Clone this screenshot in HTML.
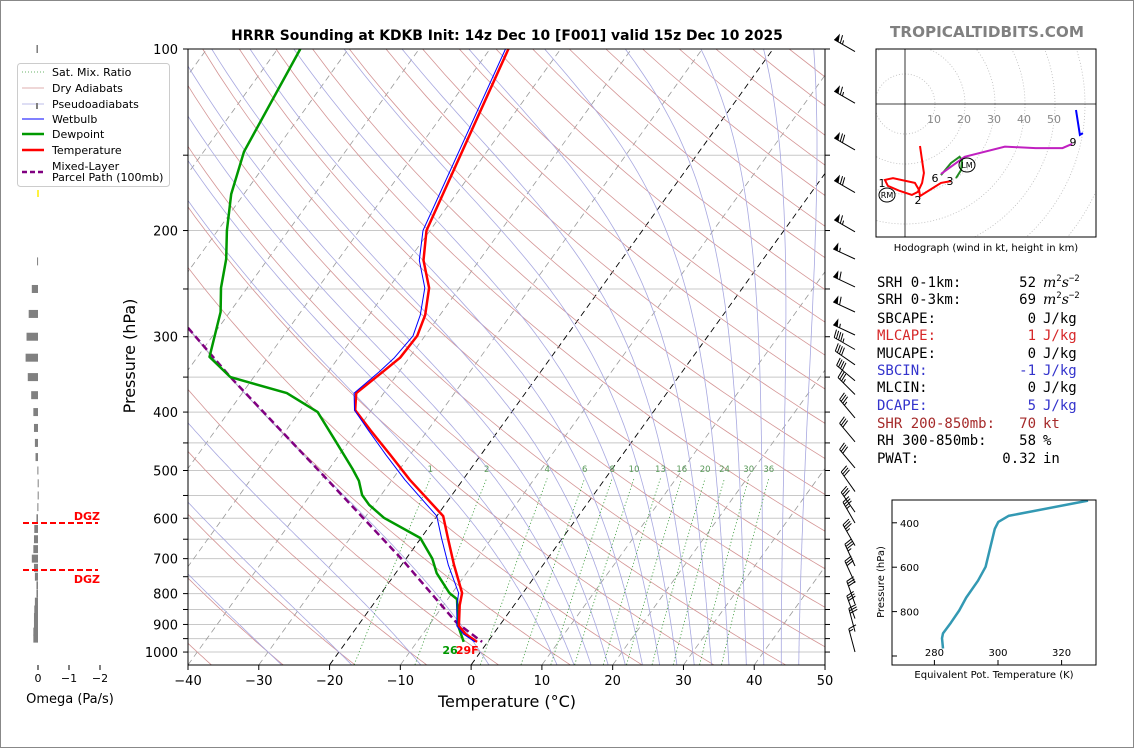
<!DOCTYPE html>
<html><head><meta charset="utf-8">
<style>
html,body{margin:0;padding:0;background:#fff;}
svg{display:block;font-family:"DejaVu Sans","Liberation Sans",sans-serif;}
</style></head>
<body>
<svg id="fig" width="1134" height="748" viewBox="0 0 1134 748" xmlns="http://www.w3.org/2000/svg">
<rect x="0.5" y="0.5" width="1133" height="747" fill="#fff" stroke="#888"/>
<defs>
<clipPath id="mainclip"><rect x="188" y="49" width="637" height="616"/></clipPath>
<clipPath id="hodoclip"><rect x="876" y="49" width="220" height="188"/></clipPath>
<clipPath id="thclip"><rect x="892" y="500" width="204" height="165"/></clipPath>
</defs>
<text x="507" y="40" text-anchor="middle" font-size="13.9" font-weight="bold">HRRR Sounding at KDKB Init: 14z Dec 10 [F001] valid 15z Dec 10 2025</text>
<text x="987" y="37" text-anchor="middle" font-size="15.2" font-weight="bold" fill="#808080">TROPICALTIDBITS.COM</text>
<g id="bg" clip-path="url(#mainclip)"></g>
<g id="prof" clip-path="url(#mainclip)"></g>
<g id="axes"></g>
<g id="barbs"></g>
<g id="omega"></g>
<g id="legend"></g>
<g id="hodo"></g>
<g id="stats"></g>
<g id="theta"></g>
</svg>
<script>
// ---------- data ----------
const tempP = [100,200,224,249,276,299,325,343,372,397,428,471,518,595,647,717,798,836,905,934,962];
const tempT = [-57.4,-50.5,-47.9,-44.3,-42.1,-41.1,-41.3,-42.3,-43.9,-42.3,-38.2,-32.8,-27.5,-19.1,-16.2,-12.6,-8.6,-7.7,-5.7,-3.9,-1.5];
const wbT = [-57.8,-51.0,-48.5,-44.9,-42.8,-41.7,-42.1,-42.8,-44.2,-42.4,-38.5,-33.4,-28.2,-20.0,-17.1,-13.4,-9.1,-8.1,-6.0,-4.2,-1.8];
const dewP = [100,148,174,200,223,249,273,324,350,372,400,448,497,520,549,570,599,647,700,740,798,817,905,962];
const dewT = [-86.8,-84.3,-81.8,-78.7,-75.9,-73.7,-71.3,-68.3,-63.3,-53.7,-47.4,-41.8,-36.7,-34.6,-32.7,-30.7,-27.3,-20.1,-16.3,-14.2,-10.4,-8.7,-5.8,-3.4];
const parcelP = [290,350,501,705,892,962];
const parcelT = [-74.3,-63.3,-41.2,-20.25,-6.5,-0.8];
const mixRatios = [1,2,4,6,8,10,13,16,20,24,30,36];
const xTicks = [-40,-30,-20,-10,0,10,20,30,40,50];
const pLabels = [100,200,300,400,500,600,700,800,900,1000];
const pGrid = [100,150,200,250,300,350,400,450,500,550,600,650,700,750,800,850,900,950,1000];
const barbP = [101,123,147,173,201,223,248,273,298,315,334,355,374,409,448,495,542,586,611,666,720,768,832,880,925,1000];
const barbSpd = [65,65,70,70,65,55,60,60,55,45,40,40,35,35,30,30,30,30,35,35,35,30,30,30,30,15];
const barbDir = [300,300,300,300,300,295,295,295,295,300,305,310,315,320,320,320,325,325,330,330,335,335,340,340,345,345];
const omegaP = [100,225,250,275,300,325,350,375,400,425,450,475,500,525,550,575,600,625,650,675,700,725,750,775,800,825,850,875,900,925,950];
const omegaV = [0.05,0.03,0.2,0.3,0.37,0.4,0.33,0.22,0.15,0.13,0.1,0.08,0.02,0.01,0.01,0.02,0.05,0.12,0.13,0.15,0.2,0.13,0.1,0.05,0.05,0.1,0.12,0.13,0.13,0.15,0.15];
const hodoRed = [[5,14],[6.3,23],[5.7,26.3],[4.3,29.3],[2.3,30.3],[-1.7,29],[-5.7,27.3],[-6.7,25.3],[-4,24.7],[3.3,26.3],[4.7,28.7],[5,30.7],[9.3,28],[12,26.3],[15.3,25.7]];
const hodoGreen = [[12,23.7],[15.3,19.7],[18.2,17.6],[19,18.7],[18.7,22],[17,24.7]];
const hodoMag = [[12,23.3],[19.9,17.6],[33.3,14.2],[43.5,14.7],[52.5,14.7],[55.7,13.3]];
const hodoBlue = [[57,2],[58.3,10.3],[59.3,9.7]];
const thetaE = [328.3,303.3,300.1,299,296.1,293.7,290,287.8,285.2,282.7,282.4,282.7];
const thetaP = [300,369,396,427,598,661,737,795,850,898,920,966];
const statLabels = ["SRH 0-1km:","SRH 0-3km:","SBCAPE:","MLCAPE:","MUCAPE:","SBCIN:","MLCIN:","DCAPE:","SHR 200-850mb:","RH 300-850mb:","PWAT:"];
const statValues = ["52","69","0","1","0","-1","0","5","70","58","0.32"];
const statUnits = ["m2s-2","m2s-2","J/kg","J/kg","J/kg","J/kg","J/kg","J/kg","kt","%","in"];
const statColors = ["#000","#000","#000","#d62728","#000","#3333cc","#000","#3333cc","#a52a2a","#000","#000"];

// ---------- helpers ----------
const NS="http://www.w3.org/2000/svg";
function mk(parent,tag,attrs){const e=document.createElementNS(NS,tag);for(const k in attrs)e.setAttribute(k,attrs[k]);parent.appendChild(e);return e;}
const yP=p=>49+261.9*Math.log(p/100);
const xT=(T,p)=>188+(T+40)*7.078+0.72*(665-yP(p));
function pathFrom(pts){return pts.map((q,i)=>(i?'L':'M')+q[0].toFixed(1)+' '+q[1].toFixed(1)).join(' ');}
const bg=document.getElementById('bg'), prof=document.getElementById('prof'), axes=document.getElementById('axes');

pGrid.forEach(p=>{const l=mk(bg,'line',{x1:188,x2:825,y1:yP(p),y2:yP(p),stroke:'#c8c8c8','stroke-width':1});

});
for(let T=-120;T<=50;T+=10){const pts=[[xT(T,1050),yP(1050)],[xT(T,100),yP(100)]];
 const l=mk(bg,'path',{d:pathFrom(pts),stroke:(T===0||T===-20)?'#000':'#999','stroke-width':(T===0||T===-20)?0.9:0.8,'stroke-dasharray':'6,4',fill:'none'});
 
 }
for(let t0=-40;t0<=250;t0+=10){const th=t0+273.15;const pts=[];for(let p=1050;p>=100;p-=10){pts.push([xT(th*Math.pow(p/1000,0.2857)-273.15,p),yP(p)]);}
 const l=mk(bg,'path',{d:pathFrom(pts),stroke:'#d49595','stroke-width':0.8,fill:'none'});
 
 }
function es(Tc){return 6.112*Math.exp(17.67*Tc/(Tc+243.5));}
function dTdp(T,p){const Tc=T-273.15;const e=es(Tc);const rs=0.622*e/(p-e);return (287*T+2.501e6*rs)/(1005+2.501e6*2.501e6*rs*0.622/(287*T*T))/p;}
const moist0=[];for(let t=-30;t<=10;t+=10)moist0.push(t);for(let t=12.5;t<=45;t+=2.5)moist0.push(t);
moist0.forEach(t0=>{
 let pts=[];let T=t0+273.15;
 for(let p=1000;p>100;p-=5){pts.push([xT(T-273.15,p),yP(p)]);const k1=dTdp(T,p);const k2=dTdp(T-5*k1,p-5);T-=5*(k1+k2)/2;}
 pts.push([xT(T-273.15,100),yP(100)]);
 T=t0+273.15;const low=[];for(let p=1000;p<1050;p+=5){const k=dTdp(T,p);T+=5*k;low.push([xT(T-273.15,p+5),yP(p+5)]);}
 pts=low.reverse().concat(pts);
 const l=mk(bg,'path',{d:pathFrom(pts),stroke:'#a8a8e0','stroke-width':0.8,fill:'none'});
 
 });
mixRatios.forEach(w=>{const pts=[];for(let p=1050;p>=515;p-=5){const e=w*p/(622+w);const a=Math.log(e/6.112);const Td=243.5*a/(17.67-a);pts.push([xT(Td,p),yP(p)]);}
 const l=mk(bg,'path',{d:pathFrom(pts),stroke:'#3a9a3a','stroke-width':0.8,'stroke-dasharray':'1.2,2.2',fill:'none'});
 
 
 const last=pts[pts.length-1];
 const t=mk(bg,'text',{x:last[0],y:yP(505)-1,'font-size':8.5,'text-anchor':'middle',fill:'#5a9a5a'});t.textContent=w;
 
 });

function prof_line(P,T,color,w,name,dash){const pts=P.map((p,i)=>[xT(T[i],p),yP(p)]);const a={d:pathFrom(pts),stroke:color,'stroke-width':w,fill:'none','stroke-linejoin':'round'};if(dash)a['stroke-dasharray']=dash;const l=mk(prof,'path',a);
 
 }
prof_line(parcelP,parcelT,'#800080',2.5,'parcel-path','7,4');
prof_line(dewP,dewT,'#009900',2.5,'dewpoint-line');
prof_line(tempP,tempT,'#ff0000',2.5,'temperature-line');
prof_line(tempP,wbT,'#0000ff',1,'wetbulb-line');
{const t=mk(prof,'text',{x:xT(dewT[dewT.length-1],1000)-14,y:654,'font-size':11,'font-weight':'bold',fill:'#009900'});t.textContent='26';
 
 
 const u=mk(prof,'text',{x:xT(tempT[tempT.length-1],1000)-14,y:654,'font-size':11,'font-weight':'bold',fill:'#ff0000'});u.textContent='29F';
 
 }

mk(axes,'rect',{x:188,y:49,width:637,height:616,fill:'none',stroke:'#000','stroke-width':1});
xTicks.forEach(T=>{const x=188+(T+40)*7.078;mk(axes,'line',{x1:x,x2:x,y1:665,y2:670,stroke:'#000'});
 const t=mk(axes,'text',{x:x,y:685,'font-size':13,'text-anchor':'middle'});t.textContent=T<0?'\u2212'+(-T):T;
 
 });
pGrid.forEach(p=>{const y=yP(p);mk(axes,'line',{x1:183,x2:188,y1:y,y2:y,stroke:'#000'});mk(axes,'line',{x1:825,x2:830,y1:y,y2:y,stroke:'#000'});});
pLabels.forEach(p=>{const t=mk(axes,'text',{x:178,y:yP(p)+5,'font-size':13,'text-anchor':'end'});t.textContent=p;
 
 });
{const t=mk(axes,'text',{x:507,y:707,'font-size':16,'text-anchor':'middle'});t.textContent='Temperature (\u00B0C)';
 
 
 const u=mk(axes,'text',{x:0,y:0,'font-size':16,'text-anchor':'middle',transform:'translate(135,356) rotate(-90)'});u.textContent='Pressure (hPa)';
 
 }

const bgB=document.getElementById('barbs');
barbP.forEach((p,i)=>{const bx=855,by=yP(p);const d=barbDir[i]*Math.PI/180;const ux=Math.sin(d),uy=-Math.cos(d);const nx=-uy,ny=ux;const L=24;
 const tx=bx+L*ux,ty=by+L*uy;let parts='M'+bx.toFixed(1)+' '+by.toFixed(1)+' L'+tx.toFixed(1)+' '+ty.toFixed(1);
 let s=Math.round(barbSpd[i]/5)*5;let pos=0;const g=mk(bgB,'g',{});
 
 
 while(s>=50){const ax=tx-pos*ux,ay=ty-pos*uy;mk(g,'path',{d:`M${ax} ${ay} L${ax+8*nx-2*ux} ${ay+8*ny-2*uy} L${ax-5*ux} ${ay-5*uy} Z`,fill:'#000'});pos+=6;s-=50;}
 if(pos>0)pos+=1;
 while(s>=10){const ax=tx-pos*ux,ay=ty-pos*uy;parts+=` M${ax} ${ay} L${ax+8*nx+2*ux} ${ay+8*ny+2*uy}`;pos+=2.5;s-=10;}
 if(s>=5){if(pos===0)pos=2.5;const ax=tx-pos*ux,ay=ty-pos*uy;parts+=` M${ax} ${ay} L${ax+4*nx+1*ux} ${ay+4*ny+1*uy}`;}
 mk(g,'path',{d:parts,stroke:'#000','stroke-width':1,fill:'none'});});

const om=document.getElementById('omega');
omegaP.forEach((p,i)=>{const w=omegaV[i]*31;const r=mk(om,'rect',{x:38-w,y:yP(p)-4,width:Math.max(w,1),height:8,fill:'#808080'});
 
 });
mk(om,'line',{x1:38,x2:38,y1:150,y2:160,stroke:'#ffee00','stroke-width':1.5});
mk(om,'line',{x1:38,x2:38,y1:190,y2:197,stroke:'#ffee00','stroke-width':1.5});
[[0,38],[-1,69],[-2,100]].forEach(a=>{mk(om,'line',{x1:a[1],x2:a[1],y1:665,y2:670,stroke:'#000'});const t=mk(om,'text',{x:a[1],y:682,'font-size':11,'text-anchor':'middle'});t.textContent=a[0]<0?'\u2212'+(-a[0]):a[0];
 
 });
{const t=mk(om,'text',{x:70,y:703,'font-size':13,'text-anchor':'middle'});t.textContent='Omega (Pa/s)';
 
 }
[[523,'DGZ',520],[570,'DGZ',583]].forEach(a=>{mk(om,'line',{x1:23,x2:98,y1:a[0],y2:a[0],stroke:'#ff0000','stroke-width':2,'stroke-dasharray':'6,3'});const t=mk(om,'text',{x:100,y:a[2],'font-size':11,'font-weight':'bold','text-anchor':'end',fill:'#ff0000'});t.textContent=a[1];
 
 });

const lg=document.getElementById('legend');
mk(lg,'rect',{x:17.5,y:63.5,width:152,height:123,rx:3,fill:'#fff',stroke:'#ccc'});
const legItems=[['Sat. Mix. Ratio','#3a9a3a',0.8,'1,2',72],['Dry Adiabats','#d49595',0.8,'',88],['Pseudoadiabats','#a8a8e0',0.8,'',104],['Wetbulb','#0000ff',1,'',119],['Dewpoint','#009900',2.5,'',134],['Temperature','#ff0000',2.5,'',150],['Mixed-Layer','#800080',2.5,'5,3',166]];
legItems.forEach(it=>{const a={x1:22,x2:44,y1:it[4]+(it[0]==='Mixed-Layer'?6:0),y2:it[4]+(it[0]==='Mixed-Layer'?6:0),stroke:it[1],'stroke-width':it[2]};if(it[3])a['stroke-dasharray']=it[3];mk(lg,'line',a);
 const t=mk(lg,'text',{x:52,y:it[4]+4,'font-size':11});t.textContent=it[0];
 
 });
mk(lg,'line',{x1:37,x2:37,y1:103,y2:109,stroke:'#808080','stroke-width':2});
{const t=mk(lg,'text',{x:52,y:181,'font-size':11});t.textContent='Parcel Path (100mb)';
 
 }

const hd=document.getElementById('hodo');const hx0=905,hy0=104,hk=3;
const hc=mk(hd,'g',{'clip-path':'url(#hodoclip)'});
for(let r=10;r<=80;r+=10)mk(hc,'circle',{cx:hx0,cy:hy0,r:r*hk,fill:'none',stroke:'#bbb','stroke-width':0.8,'stroke-dasharray':'1,2'});
mk(hc,'line',{x1:hx0,x2:hx0,y1:49,y2:237,stroke:'#000','stroke-width':0.8});
mk(hc,'line',{x1:876,x2:1096,y1:hy0,y2:hy0,stroke:'#000','stroke-width':0.8});
for(let r=10;r<=50;r+=10){const t=mk(hc,'text',{x:hx0+r*hk-1,y:hy0+19,'font-size':11,'text-anchor':'middle',fill:'#888'});t.textContent=r;
 
 }
function hpath(arr,col,name){const l=mk(hc,'path',{d:pathFrom(arr.map(q=>[hx0+q[0]*hk,hy0+q[1]*hk])),stroke:col,'stroke-width':2,fill:'none'});
 
 }
hpath(hodoRed,'#ff0000','hodo-0-3km');hpath(hodoGreen,'#228b22','hodo-3-6km');hpath(hodoMag,'#c020c0','hodo-6-9km');hpath(hodoBlue,'#0000ff','hodo-9km-plus');
[['1',882,187],['2',918,204],['3',950,185],['6',935,182],['9',1073,146]].forEach(a=>{const t=mk(hc,'text',{x:a[1],y:a[2],'font-size':11,'text-anchor':'middle'});t.textContent=a[0];
 
 });
[['RM',887,195],['LM',967,165]].forEach(a=>{mk(hc,'ellipse',{cx:a[1],cy:a[2],rx:8,ry:7,fill:'none',stroke:'#000'});const t=mk(hc,'text',{x:a[1],y:a[2]+3,'font-size':8,'text-anchor':'middle'});t.textContent=a[0];
 
 });
mk(hd,'rect',{x:876,y:49,width:220,height:188,fill:'none',stroke:'#000'});
{const t=mk(hd,'text',{x:986,y:251,'font-size':10,'text-anchor':'middle'});t.textContent='Hodograph (wind in kt, height in km)';
 
 }

const st=document.getElementById('stats');
const rowY=[287,304,323,340,358,375,392,410,428,445,463];
statLabels.forEach((lab,i)=>{const g=mk(st,'g',{'font-family':'"DejaVu Sans Mono","Liberation Mono",monospace','font-size':14,fill:statColors[i]});
 
 
 const a=mk(g,'text',{x:877,y:rowY[i]});a.textContent=lab;
 const b=mk(g,'text',{x:1036,y:rowY[i],'text-anchor':'end'});b.textContent=statValues[i];
 const c=mk(g,'text',{x:1043,y:rowY[i]});
 if(statUnits[i]==='m2s-2'){const t1=mk(c,'tspan',{'font-style':'italic','font-family':'"DejaVu Serif",serif'});t1.textContent='m';const t2=mk(c,'tspan',{dy:-6,'font-size':9});t2.textContent='2';const t3=mk(c,'tspan',{dy:6,'font-style':'italic','font-family':'"DejaVu Serif",serif'});t3.textContent='s';const t4=mk(c,'tspan',{dy:-6,'font-size':9});t4.textContent='\u22122';}
 else c.textContent=statUnits[i];});

const th=document.getElementById('theta');
const thX=v=>998+(v-300)*3.18, thY=p=>522.8+(p-400)*0.222;
const tc=mk(th,'g',{'clip-path':'url(#thclip)'});
{const l=mk(tc,'path',{d:pathFrom(thetaE.map((v,i)=>[thX(v),thY(thetaP[i])])),stroke:'#3399b3','stroke-width':2.5,fill:'none','stroke-linejoin':'round'});
 
 }
mk(th,'rect',{x:892,y:500,width:204,height:165,fill:'none',stroke:'#000'});
[400,600,800,1000].forEach(p=>{const y=thY(p);mk(th,'line',{x1:892,x2:897,y1:y,y2:y,stroke:'#000'});if(p<1000){const t=mk(th,'text',{x:900,y:y+4,'font-size':10});t.textContent=p;
 
 }});
[280,300,320].forEach(v=>{const x=thX(v);mk(th,'line',{x1:x,x2:x,y1:660,y2:665,stroke:'#000'});const t=mk(th,'text',{x:x,y:656,'font-size':10,'text-anchor':'middle'});t.textContent=v;
 
 });
{const t=mk(th,'text',{x:994,y:678,'font-size':10,'text-anchor':'middle'});t.textContent='Equivalent Pot. Temperature (K)';
 
 
 const u=mk(th,'text',{x:0,y:0,'font-size':10,'text-anchor':'middle',transform:'translate(884,582) rotate(-90)'});u.textContent='Pressure (hPa)';
 
 }
</script>
</body></html>
